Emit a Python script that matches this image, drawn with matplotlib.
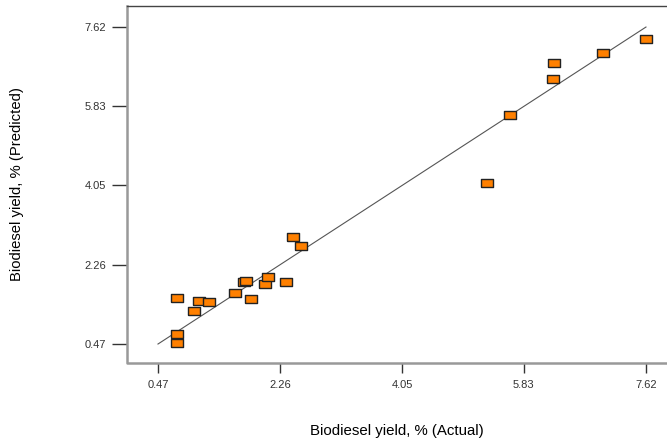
import numpy as np
import matplotlib
matplotlib.use("Agg")
import matplotlib.pyplot as plt

plt.rcParams['font.family'] = ['Liberation Sans', 'DejaVu Sans']

# actual vs predicted biodiesel yield (%)
actual = [0.75, 0.75, 0.75, 1.00, 1.07, 1.22, 1.60, 1.73, 1.76, 1.83, 2.04,
          2.08, 2.35, 2.45, 2.57, 5.29, 5.63, 6.26, 6.27, 6.99, 7.62]
predicted = [1.51, 0.70, 0.49, 1.21, 1.44, 1.42, 1.62, 1.87, 1.89, 1.48, 1.82,
             1.98, 1.87, 2.88, 2.68, 4.10, 5.63, 6.45, 6.81, 7.03, 7.35]
ticks = [0.47, 2.26, 4.05, 5.83, 7.62]

fig = plt.figure(figsize=(6.67, 4.46), dpi=100)
ax = fig.add_axes([0.1904, 0.186, 0.8096, 0.8005])

# y = x reference line
ax.plot([ticks[0], ticks[-1]], [ticks[0], ticks[-1]], color='#555555', lw=0.8, zorder=1)

rect = [(-1, -0.64), (1, -0.64), (1, 0.64), (-1, 0.64), (-1, -0.64)]
ax.scatter(actual, predicted, marker=rect, s=66, facecolor='#FF8000',
           edgecolor='#222222', linewidths=1.0, zorder=3)

ax.set_xlim(0.016, 7.928)
ax.set_ylim(0.041, 8.094)
ax.set_xticks(ticks)
ax.set_yticks(ticks)
ax.set_xticklabels([f"{t:.2f}" for t in ticks])
ax.set_yticklabels([f"{t:.2f}" for t in ticks])

for s in ax.spines.values():
    s.set_visible(False)
ax.plot([0, 0, 1], [1, 0, 0], transform=ax.transAxes, color='#999999', lw=1.8,
        clip_on=False, zorder=2)
ax.plot([0, 1], [1, 1], transform=ax.transAxes, color='#444444', lw=1.0,
        clip_on=False, zorder=2)

ax.tick_params(axis='y', direction='out', length=11, width=1, color='#333333',
               labelsize=8, labelcolor='#333333', pad=4)
ax.tick_params(axis='x', direction='out', length=7, width=1, color='#333333',
               labelsize=8, labelcolor='#333333', pad=5)

ax.set_xlabel("Biodiesel yield, % (Actual)", fontsize=10.8)
ax.set_ylabel("Biodiesel yield, % (Predicted)", fontsize=10.7)
ax.xaxis.set_label_coords(0.5, -0.17)
ax.yaxis.set_label_coords(-0.191, 0.5)

fig.savefig("out.png", dpi=100)
